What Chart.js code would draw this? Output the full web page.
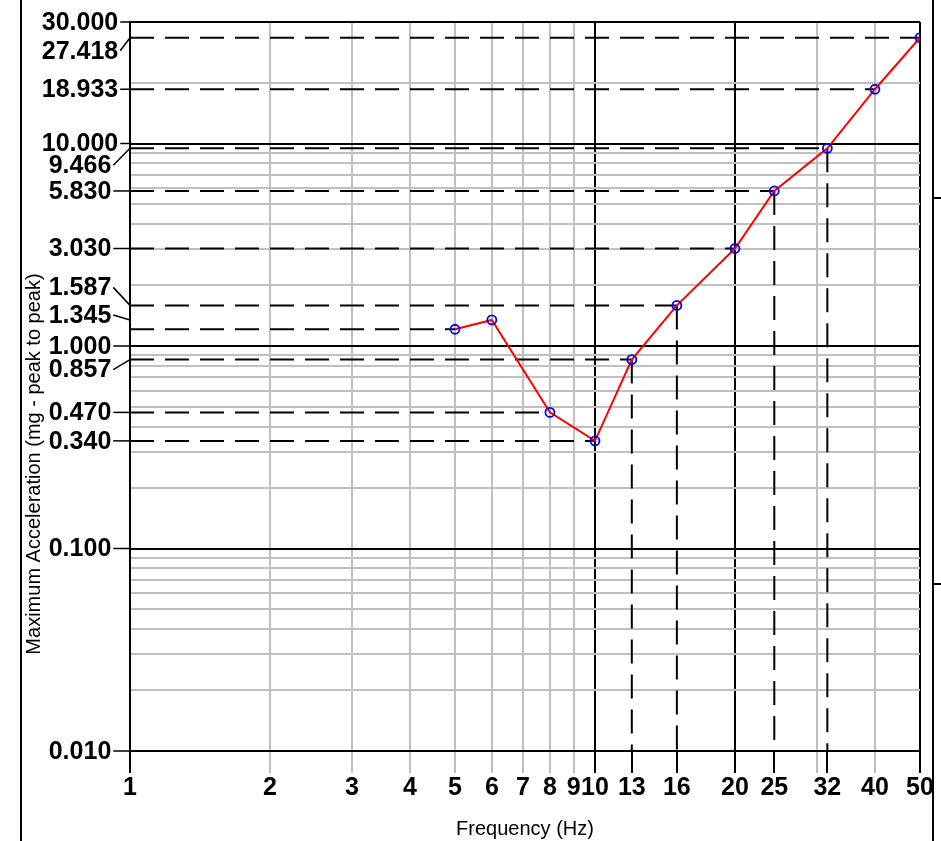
<!DOCTYPE html>
<html>
<head>
<meta charset="utf-8">
<title>Maximum Acceleration vs Frequency</title>
<script src="https://cdn.jsdelivr.net/npm/chart.js@4.4.1/dist/chart.umd.min.js"></script>
<style>
  html, body { margin: 0; padding: 0; background: #fff; }
  #wrap { position: relative; width: 941px; height: 841px; }
</style>
</head>
<body>
<div id="wrap"><canvas id="accelChart"></canvas></div>
<script>
// measured curve: frequency (Hz, as placed on the plot) -> max acceleration (mg peak to peak)
const FREQUENCIES = [5, 6, 8, 10, 12, 15, 20, 24.3, 31.6, 40, 50];
const ACCELERATIONS = [1.21, 1.345, 0.470, 0.340, 0.857, 1.587, 3.030, 5.830, 9.466, 18.933, 27.418];

// points that get dashed guide lines
const H_GUIDE_FREQS = [5, 8, 10, 12, 15, 20, 24.3, 31.6, 40, 50];
const V_GUIDE_FREQS = [12, 15, 24.3, 31.6];

// axis ticks (labels as printed on the original)
const X_TICKS = [1, 2, 3, 4, 5, 6, 7, 8, 9, 10, 12, 15, 20, 24.3, 30, 31.6, 40, 50];
const X_LABELS = ['1', '2', '3', '4', '5', '6', '7', '8', '9', '10', '13', '16', '20', '25', '', '32', '40', '50'];
const X_MAJOR = [1, 10, 20, 50];
const Y_DECADES = [0.01, 0.1, 1, 10, 30];
const Y_MINOR = [0.02, 0.03, 0.04, 0.05, 0.06, 0.07, 0.08, 0.09,
                 0.2, 0.3, 0.4, 0.5, 0.6, 0.7, 0.8, 0.9,
                 2, 3, 4, 5, 6, 7, 8, 9, 20];
const Y_LABELS = [30, 27.418, 18.933, 10, 9.466, 5.830, 3.030, 1.587, 1.345, 1, 0.857, 0.470, 0.340, 0.1, 0.01];

// label nudges (px) where labels would collide, drawn with a leader line
const LABEL_NUDGE = { '27.418': 13, '9.466': 17, '1.587': -18, '1.345': -5, '0.857': 10 };
const LABEL_CENTER_X = 80;

const BLACK = '#000000';
const GRAY = '#c0c0c0';
const CLEAR = 'rgba(0,0,0,0)';
const FONT = 'Arial, "Liberation Sans", sans-serif';

// log decades up to 10, the 10..max band is drawn linear (like the original plot)
const LOG_TOP = 10;
const LINEAR_BAND = 0.6; // height of the top band, in decades

const LogScale = Chart.LogarithmicScale || Chart.registry.getScale('logarithmic');

class BandedLogScale extends LogScale {
    toPos(v) {
        if (v <= LOG_TOP) return Math.log10(v);
        return Math.log10(LOG_TOP) + (v - LOG_TOP) / (this.max - LOG_TOP) * LINEAR_BAND;
    }
    getPixelForValue(value) {
        if (value === undefined || value === null || value <= 0) return NaN;
        const lo = this.toPos(this.min);
        const hi = this.toPos(this.max);
        return this.getPixelForDecimal((this.toPos(value) - lo) / (hi - lo));
    }
    getValueForPixel(pixel) {
        const lo = this.toPos(this.min);
        const hi = this.toPos(this.max);
        const t = lo + this.getDecimalForPixel(pixel) * (hi - lo);
        const top = Math.log10(LOG_TOP);
        if (t <= top) return Math.pow(10, t);
        return LOG_TOP + (t - top) / LINEAR_BAND * (this.max - LOG_TOP);
    }
}
BandedLogScale.id = 'bandedLog';
BandedLogScale.defaults = LogScale.defaults;
Chart.register(BandedLogScale);

function valueAt(freq) {
    return ACCELERATIONS[FREQUENCIES.indexOf(freq)];
}

const dashStyle = {
    borderColor: BLACK,
    borderWidth: 2,
    borderDash: [24, 11],
    pointRadius: 0,
    fill: false,
    tension: 0
};

const guideSets = [];
H_GUIDE_FREQS.forEach(f => {
    guideSets.push(Object.assign({
        label: 'h' + f,
        data: [{ x: 1, y: valueAt(f) }, { x: f, y: valueAt(f) }]
    }, dashStyle));
});
V_GUIDE_FREQS.forEach(f => {
    guideSets.push(Object.assign({
        label: 'v' + f,
        data: [{ x: f, y: valueAt(f) }, { x: f, y: 0.01 }]
    }, dashStyle));
});

const axisDecor = {
    id: 'axisDecor',
    afterDraw(chart) {
        const { ctx, chartArea, scales } = chart;
        const y = scales.y;
        ctx.save();

        // y tick labels with tick marks / leaders
        ctx.font = 'bold 25px ' + FONT;
        ctx.fillStyle = BLACK;
        ctx.strokeStyle = BLACK;
        ctx.textAlign = 'center';
        ctx.textBaseline = 'middle';
        Y_LABELS.forEach(v => {
            const text = v.toFixed(3);
            const tickY = y.getPixelForValue(v);
            const textY = tickY + (LABEL_NUDGE[text] || 0);
            const w = ctx.measureText(text).width;
            ctx.fillText(text, LABEL_CENTER_X, textY + 1);
            ctx.beginPath();
            ctx.lineWidth = 1.5;
            ctx.moveTo(LABEL_CENTER_X + w / 2 + 2, textY);
            ctx.lineTo(chartArea.left, tickY);
            ctx.stroke();
        });

        // y axis title
        ctx.save();
        ctx.translate(34, 464);
        ctx.rotate(-Math.PI / 2);
        ctx.font = '20px ' + FONT;
        ctx.fillText('Maximum Acceleration (mg - peak to peak)', 0, 0);
        ctx.restore();

        // panel frame lines
        ctx.lineWidth = 2;
        ctx.beginPath();
        ctx.moveTo(21, 0); ctx.lineTo(21, 841);
        ctx.moveTo(933, 0); ctx.lineTo(933, 841);
        ctx.moveTo(933, 198); ctx.lineTo(941, 198);
        ctx.moveTo(933, 584); ctx.lineTo(941, 584);
        ctx.stroke();
        ctx.restore();
    }
};

new Chart(document.getElementById('accelChart'), {
    type: 'line',
    data: {
        datasets: [
            {
                label: 'Maximum Acceleration',
                data: FREQUENCIES.map((f, i) => ({ x: f, y: ACCELERATIONS[i] })),
                borderColor: '#ff0000',
                borderWidth: 2,
                pointRadius: 4.5,
                pointBorderWidth: 1.8,
                pointBorderColor: '#0000ff',
                pointBackgroundColor: CLEAR,
                fill: false,
                tension: 0
            },
            ...guideSets
        ]
    },
    options: {
        responsive: true,
        maintainAspectRatio: false,
        animation: false,
        layout: { padding: { left: 130, right: 21, top: 22, bottom: 0 } },
        plugins: {
            legend: { display: false },
            tooltip: { enabled: false }
        },
        scales: {
            x: {
                type: 'logarithmic',
                min: 1,
                max: 50,
                afterBuildTicks: axis => { axis.ticks = X_TICKS.map(v => ({ value: v })); },
                border: { display: true, color: BLACK, width: 2 },
                grid: {
                    lineWidth: 2,
                    tickLength: 22,
                    color: c => {
                        const v = c.tick ? c.tick.value : 0;
                        if (X_MAJOR.includes(v)) return BLACK;
                        if (V_GUIDE_FREQS.includes(v)) return CLEAR;
                        return GRAY;
                    },
                    tickColor: c => {
                        const v = c.tick ? c.tick.value : 0;
                        return (X_MAJOR.includes(v) || V_GUIDE_FREQS.includes(v)) ? BLACK : GRAY;
                    }
                },
                ticks: {
                    autoSkip: false,
                    maxRotation: 0,
                    minRotation: 0,
                    padding: 0,
                    color: BLACK,
                    font: { family: FONT, size: 25, weight: 'bold' },
                    callback: (value, index) => X_LABELS[index]
                },
                title: {
                    display: true,
                    text: 'Frequency (Hz)',
                    color: BLACK,
                    font: { family: FONT, size: 20 },
                    padding: { top: 14, bottom: 0 }
                }
            },
            y: {
                type: 'bandedLog',
                min: 0.01,
                max: 30,
                afterBuildTicks: axis => {
                    axis.ticks = Y_DECADES.concat(Y_MINOR).map(v => ({ value: v }));
                },
                border: { display: true, color: BLACK, width: 2 },
                grid: {
                    lineWidth: 2,
                    drawTicks: false,
                    color: c => {
                        const v = c.tick ? c.tick.value : 0;
                        return Y_DECADES.includes(v) ? BLACK : GRAY;
                    }
                },
                ticks: { display: false }
            }
        }
    },
    plugins: [axisDecor]
});
</script>
</body>
</html>
